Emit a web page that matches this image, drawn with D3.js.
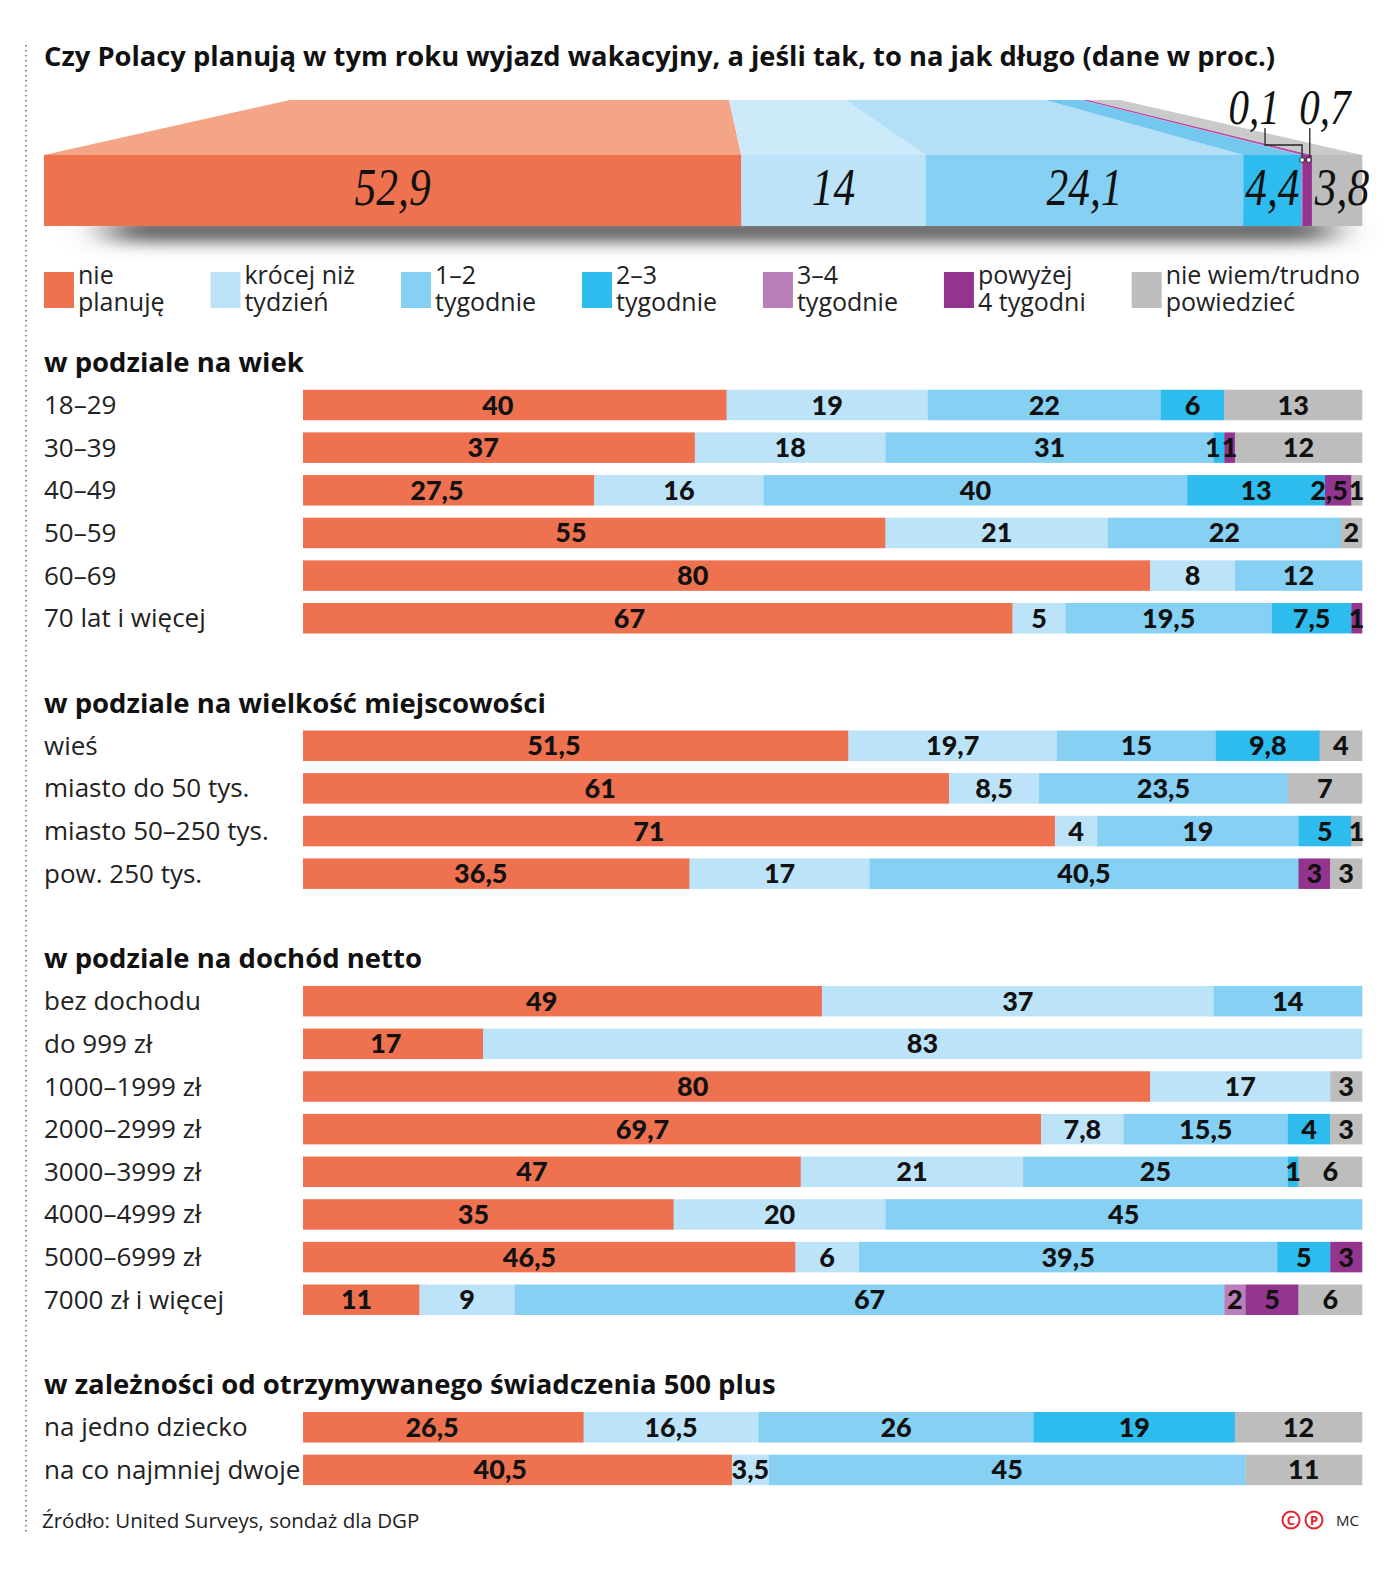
<!DOCTYPE html>
<html>
<head>
<meta charset="utf-8">
<script src="https://cdn.jsdelivr.net/npm/d3@7"></script>
<style>
  body { margin: 0; background: #fff; }
  svg text { font-family: "Open Sans", Lato, sans-serif; }
  svg text.val { font-family: Lato, "Open Sans", sans-serif; }
</style>
</head>
<body>
<div id="chart"></div>
<script>
// ---- data ----
var title = "Czy Polacy planują w tym roku wyjazd wakacyjny, a jeśli tak, to na jak długo (dane w proc.)"
var legendLines = [["nie", "planuję"], ["krócej niż", "tydzień"], ["1–2", "tygodnie"], ["2–3", "tygodnie"],
                   ["3–4", "tygodnie"], ["powyżej", "4 tygodni"], ["nie wiem/trudno", "powiedzieć"]]
var totalValues = [52.9, 14, 24.1, 4.4, 0.1, 0.7, 3.8]

var sectionTitles = ["w podziale na wiek", "w podziale na wielkość miejscowości",
                     "w podziale na dochód netto", "w zależności od otrzymywanego świadczenia 500 plus"]

var ageRows = ["18–29", "30–39", "40–49", "50–59", "60–69", "70 lat i więcej"]
var ageValues = [
    [40, 19, 22, 6, 0, 0, 13],
    [37, 18, 31, 1, 0, 1, 12],
    [27.5, 16, 40, 13, 0, 2.5, 1],
    [55, 21, 22, 0, 0, 0, 2],
    [80, 8, 12, 0, 0, 0, 0],
    [67, 5, 19.5, 7.5, 0, 1, 0]
]

var townRows = ["wieś", "miasto do 50 tys.", "miasto 50–250 tys.", "pow. 250 tys."]
var townValues = [
    [51.5, 19.7, 15, 9.8, 0, 0, 4],
    [61, 8.5, 23.5, 0, 0, 0, 7],
    [71, 4, 19, 5, 0, 0, 1],
    [36.5, 17, 40.5, 0, 0, 3, 3]
]

var incomeRows = ["bez dochodu", "do 999 zł", "1000–1999 zł", "2000–2999 zł", "3000–3999 zł",
                  "4000–4999 zł", "5000–6999 zł", "7000 zł i więcej"]
var incomeValues = [
    [49, 37, 14, 0, 0, 0, 0],
    [17, 83, 0, 0, 0, 0, 0],
    [80, 17, 0, 0, 0, 0, 3],
    [69.7, 7.8, 15.5, 4, 0, 0, 3],
    [47, 21, 25, 1, 0, 0, 6],
    [35, 20, 45, 0, 0, 0, 0],
    [46.5, 6, 39.5, 5, 0, 3, 0],
    [11, 9, 67, 0, 2, 5, 6]
]

var plusRows = ["na jedno dziecko", "na co najmniej dwoje"]
var plusValues = [
    [26.5, 16.5, 26, 19, 0, 0, 12],
    [40.5, 3.5, 45, 0, 0, 0, 11]
]

var source = "Źródło: United Surveys, sondaż dla DGP"

// ---- styles ----
var colors = ["#ee7150", "#bde3f9", "#86d0f4", "#2ebcee", "#b97fba", "#93358e", "#bdbdbd"]
var topColors = ["#f3a586", "#cdeafb", "#b4e0f7", "#72c8ef", "#c58cc4", "#b050a6", "#cacaca"]

var W = 1400, H = 1569
var svg = d3.select("#chart").append("svg").attr("width", W).attr("height", H)

var fmt = function(v){ return String(v).replace(".", ",") }

/* dotted margin line */
svg.append("line").attr("x1", 26).attr("x2", 26).attr("y1", 45).attr("y2", 1532)
    .attr("stroke", "#777").attr("stroke-width", 1.6).attr("stroke-dasharray", "1.6,3.4")

/* title */
svg.append("text").attr("x", 44).attr("y", 66).attr("font-size", 26).attr("font-weight", 700)
    .attr("fill", "#111").text(title)
    .attr("textLength", 1231).attr("lengthAdjust", "spacingAndGlyphs")

// ---- big 3d bar ----
var xFront = d3.scaleLinear().domain([0, 100]).range([44, 1362])
var xBack = d3.scaleLinear().domain([0, 100]).range([290, 1120])
var yBack = 100, yFront = 155, yBottom = 226

var defs = svg.append("defs")
defs.append("filter").attr("id", "shadow").attr("x", "-10%").attr("y", "-200%")
    .attr("width", "120%").attr("height", "500%")
    .append("feGaussianBlur").attr("stdDeviation", "22 8")

svg.append("rect").attr("x", 110).attr("width", 1220).attr("y", yBottom - 8).attr("height", 24)
    .attr("fill", "#5e5e5e").attr("filter", "url(#shadow)")

var ends = d3.cumsum(totalValues)
var segs = totalValues.map(function(v, i){ return {v: v, i: i, a: ends[i] - v, b: ends[i]} })

svg.selectAll(".topface").data(segs).enter().append("path")
    .attr("class", "topface")
    .attr("d", function(d){
        return "M" + xBack(d.a) + "," + yBack + "L" + xBack(d.b) + "," + yBack +
               "L" + xFront(d.b) + "," + yFront + "L" + xFront(d.a) + "," + yFront + "Z"
    })
    .attr("fill", function(d){ return topColors[d.i] })

svg.selectAll(".front").data(segs).enter().append("rect")
    .attr("class", "front")
    .attr("x", function(d){ return xFront(d.a) })
    .attr("width", function(d){ return xFront(d.b) - xFront(d.a) + 0.3 })
    .attr("y", yFront).attr("height", yBottom - yFront)
    .attr("fill", function(d){ return colors[d.i] })

var serif = "'Liberation Serif', 'DejaVu Serif', serif"
svg.selectAll(".biglabel").data(segs.filter(function(d){ return d.v >= 1 })).enter().append("text")
    .attr("class", "biglabel")
    .attr("transform", function(d, i, n){
        var cx = (xFront(d.a) + xFront(d.b)) / 2 + (i === n.length - 1 ? 5 : 0)
        return "translate(" + cx + ",205) scale(0.82,1)"
    })
    .attr("text-anchor", "middle")
    .style("font-family", serif).style("font-style", "italic")
    .attr("font-size", 53).attr("fill", "#111")
    .text(function(d){ return fmt(d.v) })

/* callouts for the tiny segments */
var small = segs.filter(function(d){ return d.v < 1 })
small.forEach(function(d, k){
    var cx = (xFront(d.a) + xFront(d.b)) / 2 + (k === 0 ? 0 : 1.5)
    var lx = k === 0 ? cx - 37 : cx + 1
    var tx = k === 0 ? cx - 48 : cx + 16
    var path = k === 0
        ? "M" + lx + ",128V145H" + cx + "V157.5"
        : "M" + lx + ",128V157.5"
    svg.append("path").attr("d", path).attr("fill", "none").attr("stroke", "#222").attr("stroke-width", 1.3)
    svg.append("circle").attr("cx", cx).attr("cy", 160).attr("r", 2.4)
        .attr("fill", "#fff").attr("stroke", "#222").attr("stroke-width", 1)
    svg.append("text").attr("transform", "translate(" + tx + ",124) scale(0.82,1)").attr("text-anchor", "middle")
        .style("font-family", serif).style("font-style", "italic")
        .attr("font-size", 50).attr("fill", "#111").text(fmt(d.v))
})

// ---- legend ----
var lg = svg.append("g")
var items = lg.selectAll(".lg").data(legendLines).enter().append("g").attr("class", "lg")
items.append("rect").attr("width", 30).attr("height", 36).attr("y", 272)
    .attr("fill", function(d, i){ return colors[i] })
var lt = items.append("text").attr("y", 284).attr("font-size", 25).attr("fill", "#222")
lt.append("tspan").attr("x", 34).text(function(d){ return d[0] })
lt.append("tspan").attr("x", 34).attr("dy", 27).text(function(d){ return d[1] })
var widths = []
items.each(function(){ widths.push(this.getBBox().width) })
var gap = (1360 - 44 - d3.sum(widths)) / (widths.length - 1)
var acc = 44
items.attr("transform", function(d, i){ var x = acc; acc += widths[i] + gap; return "translate(" + x + ",0)" })

// ---- stacked rows ----
var x = d3.scaleLinear().domain([0, 100]).range([303, 1362])
var rowStep = 42.65, barH = 30.5

function section(titleText, rows, values, yHead) {
    svg.append("text").attr("x", 44).attr("y", yHead).attr("font-size", 27.5).attr("font-weight", 700)
        .attr("fill", "#111").text(titleText)
    var y = d3.scaleLinear().domain([0, 1]).range([yHead + 33, yHead + 33 + rowStep])

    var g = svg.selectAll(null).data(values).enter().append("g")
        .attr("transform", function(d, i){ return "translate(0," + y(i) + ")" })

    g.append("text").attr("x", 44).attr("y", 9).attr("font-size", 26).attr("fill", "#222")
        .text(function(d, i){ return rows[i] })

    g.each(function(vals){
        var row = d3.select(this)
        var e = d3.cumsum(vals)
        var s = vals.map(function(v, i){ return {v: v, i: i, a: e[i] - v, b: e[i]} })
            .filter(function(d){ return d.v > 0 })
        row.selectAll("rect").data(s).enter().append("rect")
            .attr("x", function(d){ return x(d.a) })
            .attr("width", function(d){ return x(d.b) - x(d.a) + 0.3 })
            .attr("y", -barH / 2).attr("height", barH)
            .attr("fill", function(d){ return colors[d.i] })
        var labels = row.selectAll(".val").data(s).enter().append("text")
            .attr("class", "val")
            .attr("y", 9.5).attr("text-anchor", "middle")
            .attr("font-size", 27).attr("font-weight", 900).attr("fill", "#111")
            .text(function(d){ return fmt(d.v) })
        /* centre labels, first one a bit left, then nudge to avoid overlaps */
        var pos = [], w = []
        labels.each(function(d, k){
            w.push(this.getComputedTextLength())
            pos.push(k === 0 ? x(d.a) + (x(d.b) - x(d.a)) * 0.46 : (x(d.a) + x(d.b)) / 2)
        })
        for (var k = pos.length - 1; k >= 0; k--) {
            if (k === pos.length - 1) pos[k] = Math.min(pos[k], 1366 - w[k] / 2)
            else pos[k] = Math.min(pos[k], pos[k + 1] - w[k + 1] / 2 - w[k] / 2 - 1)
        }
        labels.attr("x", function(d, k){ return pos[k] })
    })
    return y(values.length - 1)
}

var last = section(sectionTitles[0], ageRows, ageValues, 372)
last = section(sectionTitles[1], townRows, townValues, last + 94.5)
last = section(sectionTitles[2], incomeRows, incomeValues, last + 94.5)
last = section(sectionTitles[3], plusRows, plusValues, last + 94.5)

// ---- footer ----
svg.append("text").attr("x", 42).attr("y", 1528).attr("font-size", 20.5).attr("fill", "#222").text(source)
var marks = ["C", "P"]
svg.selectAll(".mark").data(marks).enter().append("g").attr("class", "mark")
    .attr("transform", function(d, i){ return "translate(" + (1291 + i * 23) + ",1520)" })
    .each(function(d){
        var m = d3.select(this)
        m.append("circle").attr("r", 8.5).attr("fill", "none").attr("stroke", "#e1262c").attr("stroke-width", 2)
        m.append("text").attr("y", 5).attr("text-anchor", "middle").attr("font-size", 13)
            .attr("font-weight", 700).attr("fill", "#e1262c").text(d)
    })
svg.append("text").attr("x", 1336).attr("y", 1526).attr("font-size", 15).attr("fill", "#222").text("MC")
</script>
</body>
</html>
